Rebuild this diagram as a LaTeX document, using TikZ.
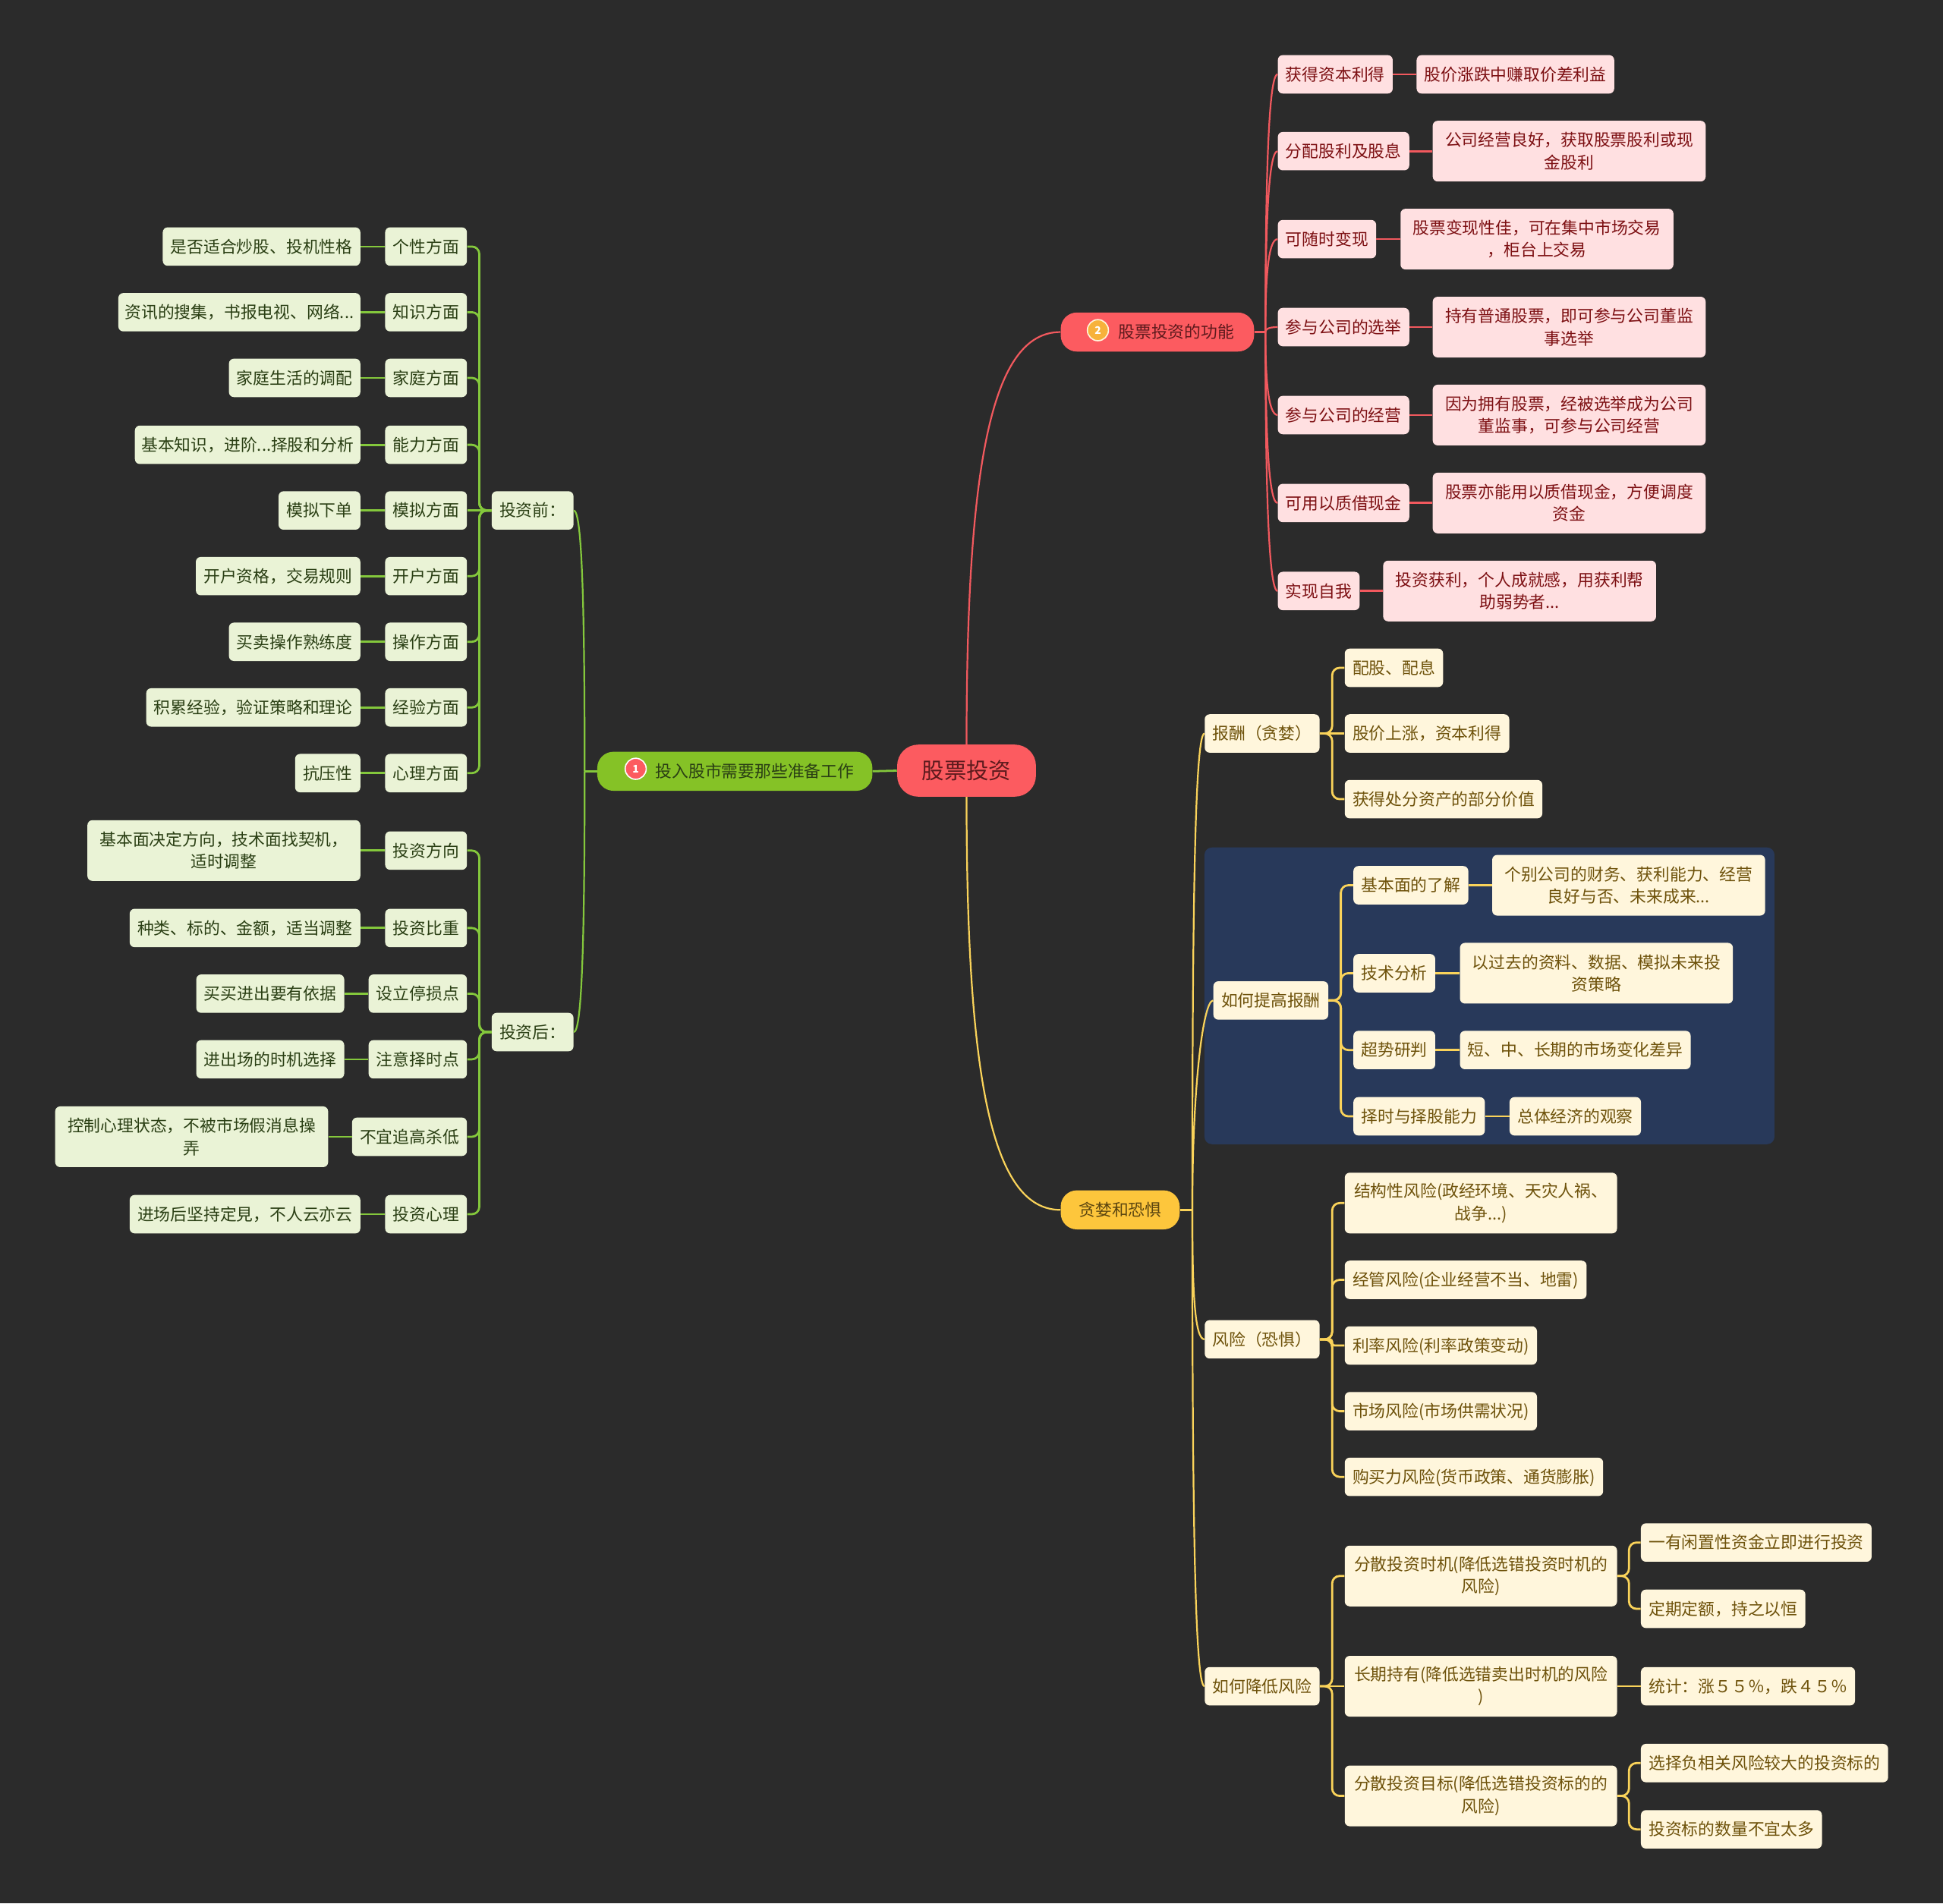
\documentclass[tikz,border=0pt]{standalone}
\usepackage{fontspec}
\setmainfont{Noto Sans CJK SC}
\usetikzlibrary{calc,positioning}
\definecolor{mmPage}{HTML}{2B2B2B}
\definecolor{mmPanel}{HTML}{28395A}
\definecolor{mmRed}{HTML}{FC5B60}
\definecolor{mmRedLine}{HTML}{F2595E}
\definecolor{mmRedSoft}{HTML}{FFE0E1}
\definecolor{mmRedInk}{HTML}{7D1013}
\definecolor{mmRedDeep}{HTML}{5E1A1D}
\definecolor{mmGreen}{HTML}{85C226}
\definecolor{mmGreenLine}{HTML}{84C83C}
\definecolor{mmGreenSoft}{HTML}{EAF3D6}
\definecolor{mmGreenInk}{HTML}{2A3F14}
\definecolor{mmYellow}{HTML}{FDC63C}
\definecolor{mmYellowLine}{HTML}{FAD35A}
\definecolor{mmYellowSoft}{HTML}{FFF6DC}
\definecolor{mmYellowInk}{HTML}{6E520B}
\definecolor{mmYellowDeep}{HTML}{5C4610}
\definecolor{mmOrange}{HTML}{F7B23B}
\tikzset{
  mm box/.style={
    rounded corners=4pt,
    font=\fontsize{13.35}{18}\selectfont,
    inner xsep=6.3pt, inner ysep=0pt,
    minimum height=31pt,
    text height=11.75pt, text depth=1.6pt,
    align=center
  },
  mm wide/.style={
    inner xsep=10pt, minimum height=49pt,
    text height=, text depth=
  },
  mm snug/.style={inner xsep=7.5pt},
  mm pink/.style={mm box, fill=mmRedSoft, text=mmRedInk},
  mm lime/.style={mm box, fill=mmGreenSoft, text=mmGreenInk},
  mm cream/.style={mm box, fill=mmYellowSoft, text=mmYellowInk},
  mm root/.style={
    rounded corners=17pt, fill=mmRed, text=mmRedDeep,
    minimum width=112pt, minimum height=42pt,
    font=\fontsize{18}{18}\selectfont, inner sep=0pt
  },
  mm branch/.style={
    rounded corners=13pt, minimum height=31.5pt, inner sep=0pt,
    font=\fontsize{13.35}{18}\selectfont
  },
  mm badge/.style={
    circle, draw=white, line width=1pt, minimum size=17pt, inner sep=0pt,
    text=white, font=\fontsize{8.5}{9}\bfseries\selectfont
  },
  mm label/.style={
    font=\fontsize{13.35}{18}\selectfont, inner sep=0pt
  },
  mm link/.style={line width=1.7pt},
  mm thin/.style={line width=1.35pt},
  mm fork/.style={
    mm link, rounded corners=6pt,
    to path={-- ($(\tikztostart)!.5!(\tikztotarget |- \tikztostart)$) |- (\tikztotarget)}
  }
}
\begin{document}
\begin{tikzpicture}[x=1pt,y=-1pt]
  \useasboundingbox (0,0) rectangle (1568,1536.15);
  \fill[mmPage] (0,0) rectangle (1568,1536.15);
  \fill[mmPanel, rounded corners=6pt] (972,684) rectangle (1432,923.5);

  \node[mm root] (root) at (780,622) {股票投资};

  \node[mm branch, fill=mmGreen, minimum width=222pt] (prepare) at (593,622.5) {};
  \node[mm label, text=mmGreenInk, right=47pt of prepare.west] (prepareText) {投入股市需要那些准备工作};
  \node[mm badge, fill=mmRed] (prepareBadge) at (513,620.5) {1};

  \node[mm branch, fill=mmRed, minimum width=156pt] (function) at (934,268) {};
  \node[mm label, text=mmRedDeep, right=46.5pt of function.west] (functionText) {股票投资的功能};
  \node[mm badge, fill=mmOrange, draw=mmYellowSoft] (functionBadge) at (886,266.5) {2};

  \node[mm branch, fill=mmYellow, text=mmYellowDeep, minimum width=96pt] (greed) at (904,976.5) {贪婪和恐惧};

  \node[mm lime, anchor=east] (before) at (463,412) {投资前：};
  \node[mm lime, anchor=east] (after) at (463,833) {投资后：};

  \node[mm lime, anchor=east] (traitA) at (377,199) {个性方面};
  \node[mm lime, anchor=east] (traitB) at (377,252) {知识方面};
  \node[mm lime, anchor=east] (traitC) at (377,305) {家庭方面};
  \node[mm lime, anchor=east] (traitD) at (377,359) {能力方面};
  \node[mm lime, anchor=east] (traitE) at (377,412) {模拟方面};
  \node[mm lime, anchor=east] (traitF) at (377,465) {开户方面};
  \node[mm lime, anchor=east] (traitG) at (377,518) {操作方面};
  \node[mm lime, anchor=east] (traitH) at (377,571) {经验方面};
  \node[mm lime, anchor=east] (traitI) at (377,624) {心理方面};
  \node[mm lime, anchor=east] (noteA) at (291,199) {是否适合炒股、投机性格};
  \node[mm lime, anchor=east, inner xsep=5.3pt] (noteB) at (291,252) {资讯的搜集，书报电视、网络...};
  \node[mm lime, anchor=east] (noteC) at (291,305) {家庭生活的调配};
  \node[mm lime, anchor=east, inner xsep=5.3pt] (noteD) at (291,359) {基本知识，进阶...择股和分析};
  \node[mm lime, anchor=east] (noteE) at (291,412) {模拟下单};
  \node[mm lime, anchor=east] (noteF) at (291,465) {开户资格，交易规则};
  \node[mm lime, anchor=east] (noteG) at (291,518) {买卖操作熟练度};
  \node[mm lime, anchor=east] (noteH) at (291,571) {积累经验，验证策略和理论};
  \node[mm lime, anchor=east] (noteI) at (291,624) {抗压性};

  \node[mm lime, anchor=east] (ruleA) at (377,686.5) {投资方向};
  \node[mm lime, anchor=east] (ruleB) at (377,749) {投资比重};
  \node[mm lime, anchor=east] (ruleC) at (377,802) {设立停损点};
  \node[mm lime, anchor=east] (ruleD) at (377,855) {注意择时点};
  \node[mm lime, anchor=east] (ruleE) at (377,917.5) {不宜追高杀低};
  \node[mm lime, anchor=east] (ruleF) at (377,980) {投资心理};
  \node[mm lime, mm wide, anchor=east] (tipA) at (291,686.5) {基本面决定方向，技术面找契机，\\适时调整};
  \node[mm lime, anchor=east] (tipB) at (291,749) {种类、标的、金额，适当调整};
  \node[mm lime, anchor=east] (tipC) at (278,802) {买买进出要有依据};
  \node[mm lime, anchor=east] (tipD) at (278,855) {进出场的时机选择};
  \node[mm lime, mm wide, anchor=east] (tipE) at (265,917.5) {控制心理状态，不被市场假消息操\\弄};
  \node[mm lime, anchor=east] (tipF) at (291,980) {进场后坚持定見，不人云亦云};

  \node[mm pink, anchor=west] (useA) at (1031,60) {获得资本利得};
  \node[mm pink, anchor=west] (useB) at (1031,122) {分配股利及股息};
  \node[mm pink, anchor=west] (useC) at (1031,193) {可随时变现};
  \node[mm pink, anchor=west] (useD) at (1031,264) {参与公司的选举};
  \node[mm pink, anchor=west] (useE) at (1031,335) {参与公司的经营};
  \node[mm pink, anchor=west] (useF) at (1031,406) {可用以质借现金};
  \node[mm pink, anchor=west] (useG) at (1031,477) {实现自我};
  \node[mm pink, anchor=west] (gainA) at (1143,60) {股价涨跌中赚取价差利益};
  \node[mm pink, mm wide, anchor=west] (gainB) at (1156,122) {公司经营良好，获取股票股利或现\\金股利};
  \node[mm pink, mm wide, anchor=west] (gainC) at (1130,193) {股票变现性佳，可在集中市场交易\\，柜台上交易};
  \node[mm pink, mm wide, anchor=west] (gainD) at (1156,264) {持有普通股票，即可参与公司董监\\事选举};
  \node[mm pink, mm wide, anchor=west] (gainE) at (1156,335) {因为拥有股票，经被选举成为公司\\董监事，可参与公司经营};
  \node[mm pink, mm wide, anchor=west] (gainF) at (1156,406) {股票亦能用以质借现金，方便调度\\资金};
  \node[mm pink, mm wide, anchor=west] (gainG) at (1116,477) {投资获利，个人成就感，用获利帮\\助弱势者...};

  \node[mm cream, anchor=west] (reward) at (972,592) {报酬（贪婪）};
  \node[mm cream, anchor=west] (raise) at (979,807.5) {如何提高报酬};
  \node[mm cream, anchor=west] (risk) at (972,1081) {风险（恐惧）};
  \node[mm cream, anchor=west] (lower) at (972,1361) {如何降低风险};

  \node[mm cream, anchor=west] (rewardA) at (1085,539) {配股、配息};
  \node[mm cream, anchor=west] (rewardB) at (1085,592) {股价上涨，资本利得};
  \node[mm cream, anchor=west] (rewardC) at (1085,645) {获得处分资产的部分价值};

  \node[mm cream, anchor=west] (raiseA) at (1092,714.5) {基本面的了解};
  \node[mm cream, anchor=west] (raiseB) at (1092,785.5) {技术分析};
  \node[mm cream, anchor=west] (raiseC) at (1092,847.5) {超势研判};
  \node[mm cream, anchor=west] (raiseD) at (1092,901) {择时与择股能力};
  \node[mm cream, mm wide, anchor=west] (detailA) at (1204,714.5) {个别公司的财务、获利能力、经营\\良好与否、未来成来...};
  \node[mm cream, mm wide, anchor=west] (detailB) at (1178,785.5) {以过去的资料、数据、模拟未来投\\资策略};
  \node[mm cream, anchor=west] (detailC) at (1178,847.5) {短、中、长期的市场变化差异};
  \node[mm cream, anchor=west] (detailD) at (1218,901) {总体经济的观察};

  \node[mm cream, mm wide, mm snug, anchor=west] (riskA) at (1085,971) {结构性风险(政经环境、天灾人祸、\\战争...)};
  \node[mm cream, anchor=west] (riskB) at (1085,1033) {经管风险(企业经营不当、地雷)};
  \node[mm cream, anchor=west] (riskC) at (1085,1086) {利率风险(利率政策变动)};
  \node[mm cream, anchor=west] (riskD) at (1085,1139) {市场风险(市场供需状况)};
  \node[mm cream, anchor=west] (riskE) at (1085,1192) {购买力风险(货币政策、通货膨胀)};

  \node[mm cream, mm wide, mm snug, anchor=west] (lowerA) at (1085,1272) {分散投资时机(降低选错投资时机的\\风险)};
  \node[mm cream, mm wide, mm snug, anchor=west] (lowerB) at (1085,1361) {长期持有(降低选错卖出时机的风险\\)};
  \node[mm cream, mm wide, mm snug, anchor=west] (lowerC) at (1085,1449.5) {分散投资目标(降低选错投资标的的\\风险)};
  \node[mm cream, anchor=west] (wayA) at (1324,1245) {一有闲置性资金立即进行投资};
  \node[mm cream, anchor=west] (wayB) at (1324,1298.5) {定期定额，持之以恒};
  \node[mm cream, anchor=west] (wayC) at (1324,1361) {统计：涨５５％，跌４５％};
  \node[mm cream, anchor=west] (wayD) at (1324,1423) {选择负相关风险较大的投资标的};
  \node[mm cream, anchor=west] (wayE) at (1324,1476.5) {投资标的数量不宜太多};

  \draw[mmGreenLine, mm link] (root.west) -- (prepare.east);
  \draw[mmRedLine, mm thin] (root.north) .. controls +(0,-230) and +(-55,0) .. (function.west);
  \draw[mmYellowLine, mm thin] (root.south) .. controls +(0,230) and +(-55,0) .. (greed.west);

  \draw[mmGreenLine, mm link] (prepare.west) -- ++(-10,0) coordinate (prepareBus);
  \draw[mmGreenLine, mm thin] (prepareBus) .. controls +(0,-150) and +(6,0) .. (before.east);
  \draw[mmGreenLine, mm thin] (prepareBus) .. controls +(0,150) and +(6,0) .. (after.east);

  \foreach \kid in {traitA,traitB,traitC,traitD,traitF,traitG,traitH,traitI}
    \draw[mmGreenLine, mm fork] (before.west) to (\kid.east);
  \foreach \kid in {ruleA,ruleB,ruleC,ruleD,ruleE,ruleF}
    \draw[mmGreenLine, mm fork] (after.west) to (\kid.east);
  \foreach \a/\b in {before/traitE,traitA/noteA,traitB/noteB,traitC/noteC,traitD/noteD,traitE/noteE,traitF/noteF,traitG/noteG,traitH/noteH,traitI/noteI,ruleA/tipA,ruleB/tipB,ruleC/tipC,ruleD/tipD,ruleE/tipE,ruleF/tipF}
    \draw[mmGreenLine, mm link] (\a.west) -- (\b.east);

  \draw[mmRedLine, mm link] (function.east) -- ++(9,0) coordinate (functionBus);
  \foreach \kid/\bend in {useA/-105,useB/-74,useC/-40,useD/-2,useE/34,useF/68,useG/104}
    \draw[mmRedLine, mm thin] (functionBus) .. controls +(0,\bend) and +(-8,0) .. (\kid.west);
  \foreach \a/\b in {useA/gainA,useB/gainB,useC/gainC,useD/gainD,useE/gainE,useF/gainF,useG/gainG}
    \draw[mmRedLine, mm link] (\a.east) -- (\b.west);

  \draw[mmYellowLine, mm link] (greed.east) -- ++(10,0) coordinate (greedBus);
  \foreach \kid/\bend in {reward/-230,raise/-100,risk/65,lower/230}
    \draw[mmYellowLine, mm thin] (greedBus) .. controls +(0,\bend) and +(-8,0) .. (\kid.west);

  \foreach \kid in {rewardA,rewardC}
    \draw[mmYellowLine, mm fork] (reward.east) to (\kid.west);
  \foreach \kid in {raiseA,raiseB,raiseC,raiseD}
    \draw[mmYellowLine, mm fork] (raise.east) to (\kid.west);
  \foreach \kid in {riskA,riskB,riskD,riskE}
    \draw[mmYellowLine, mm fork] (risk.east) to (\kid.west);
  \draw[mmYellowLine, mm fork, rounded corners=2pt] (risk.east) to (riskC.west);
  \foreach \kid in {lowerA,lowerC}
    \draw[mmYellowLine, mm fork] (lower.east) to (\kid.west);
  \foreach \kid in {wayA,wayB}
    \draw[mmYellowLine, mm fork] (lowerA.east) to (\kid.west);
  \foreach \kid in {wayD,wayE}
    \draw[mmYellowLine, mm fork] (lowerC.east) to (\kid.west);
  \foreach \a/\b in {reward/rewardB,lower/lowerB,lowerB/wayC,raiseA/detailA,raiseB/detailB,raiseC/detailC,raiseD/detailD}
    \draw[mmYellowLine, mm link] (\a.east) -- (\b.west);
\end{tikzpicture}
\end{document}
